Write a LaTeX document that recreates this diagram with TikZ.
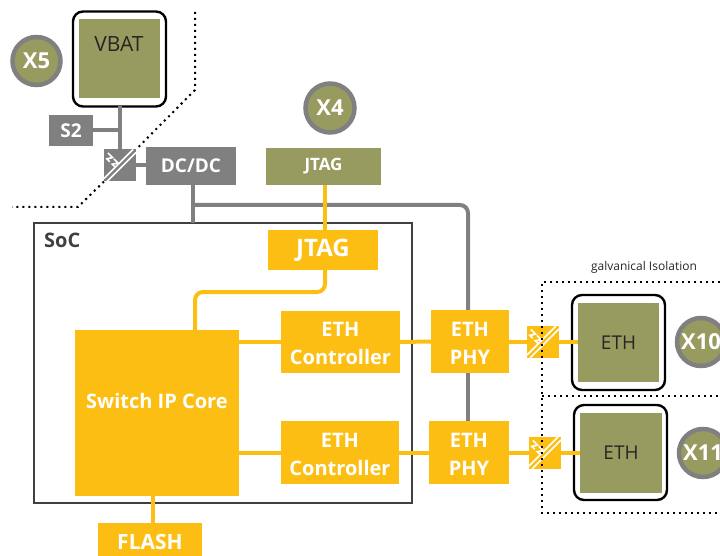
\documentclass[tikz,border=0pt]{standalone}
\usepackage{fontspec}
\setmainfont{Open Sans}
\definecolor{soc_yellow}{HTML}{FDBE14}
\definecolor{con_olive}{HTML}{989B5F}
\definecolor{box_gray}{HTML}{808080}
\tikzset{yellow_block/.style={inner sep=0pt, outer sep=0pt, rectangle, fill=soc_yellow, text=white, align=center, font=\fontsize{20}{28}\selectfont\bfseries}}
\tikzset{gray_block/.style={inner sep=0pt, outer sep=0pt, rectangle, fill=box_gray, text=white, font=\fontsize{19}{22}\selectfont\bfseries}}
\tikzset{olive_block/.style={inner sep=0pt, outer sep=0pt, rectangle, fill=con_olive, text=black!85, font=\fontsize{19}{22}\selectfont}}
\tikzset{frame_box/.style={inner sep=0pt, outer sep=0pt, rectangle, rounded corners=10pt, draw=black, line width=2.4pt, minimum width=93pt, minimum height=95pt}}
\tikzset{x_circle/.style={inner sep=0pt, outer sep=0pt, circle, fill=con_olive, draw=box_gray, line width=4.5pt, text=white, font=\fontsize{22}{24}\selectfont\bfseries}}
\tikzset{iso_box/.style={inner sep=0pt, outer sep=0pt, rectangle, minimum width=32pt, minimum height=32pt}}
\tikzset{gray_line/.style={color=box_gray, line width=4pt}}
\tikzset{yellow_line/.style={color=soc_yellow, line width=4pt}}
\tikzset{dot_line/.style={color=black, line width=2pt, dash pattern=on 2pt off 4pt}}
\tikzset{iso_mark/.style={color=white, line width=1.5pt}}

\begin{document}
\begin{tikzpicture}[x=1pt,y=-1pt]
    \useasboundingbox (0,0) rectangle (720,556);
    % connector ports
    \node[frame_box] (vbat_frame) at (119.5,59) {};
    \node[olive_block, minimum width=81pt, minimum height=79pt] (vbat) at (119.5,58.5) {};
    \node[olive_block, font=\fontsize{21}{24}\selectfont] (vbat_label) at (119,44) {VBAT};
    \node[x_circle, minimum size=48pt] (x5) at (36.5,61) {X5};
    \node[gray_block, minimum width=44pt, minimum height=31pt] (s2) at (71,130.5) {S2};
    \node[iso_box, fill=box_gray] (iso_c) at (120,165.5) {};
    \node[gray_block, minimum width=90pt, minimum height=38pt] (dcdc) at (191,166) {DC/DC};
    \node[x_circle, minimum size=49pt] (x4) at (330,108) {X4};
    \node[olive_block, minimum width=115pt, minimum height=37pt, text=white, font=\fontsize{17}{19}\selectfont\bfseries] (jtag_port) at (323.5,166.5) {JTAG};

    % soc
    \node[inner sep=0pt, outer sep=0pt, draw=black!75, line width=2pt, minimum width=378pt, minimum height=280pt] (soc) at (223,363) {};
    \node[anchor=west, inner sep=0pt, text=black!75, font=\fontsize{20}{22}\selectfont\bfseries] (soc_label) at (44,240) {SoC};

    \coordinate (branch) at (193,205);
    \coordinate (jtag_out) at (325,230);
    \coordinate (gray_down) at (468,311);
    \coordinate (gray_up) at (468,373);
    \coordinate (gray_end) at (468,421);
    \draw[gray_line] (vbat_frame.south -| iso_c.north) -- (iso_c.north);
    \draw[gray_line] (s2.east) -- (s2.east -| iso_c.north);
    \draw[gray_line] (iso_c.east) -- (dcdc.west |- iso_c.east);
    \draw[gray_line] (dcdc.south -| branch) -- (soc.north -| branch);
    \draw[gray_line, rounded corners=8pt] (branch) -| (gray_down);
    \draw[gray_line] (gray_up) -- (gray_end);

    \node[yellow_block, minimum width=110pt, minimum height=40pt, font=\fontsize{24}{26}\selectfont\bfseries] (jtag) at (323,250) {JTAG};
    \node[yellow_block, minimum width=164pt, minimum height=166pt] (switch) at (157,413) {\raisebox{5pt}[0pt][0pt]{Switch IP Core}};
    \node[yellow_block, minimum width=119pt, minimum height=62pt] (ctrl_a) at (340.5,342) {\rule{0pt}{18pt}ETH\\Controller};
    \node[yellow_block, minimum width=118pt, minimum height=63pt] (ctrl_b) at (340,452.5) {\rule{0pt}{18pt}ETH\\Controller};
    \node[yellow_block, minimum width=78pt, minimum height=63pt] (phy_a) at (470,341.5) {\rule{0pt}{18pt}ETH\\PHY};
    \node[yellow_block, minimum width=80pt, minimum height=63pt] (phy_b) at (469,452.5) {\rule{0pt}{18pt}ETH\\PHY};
    \node[yellow_block, minimum width=104pt, minimum height=38pt, font=\fontsize{21}{24}\selectfont\bfseries] (flash) at (150,542) {FLASH};
    \node[iso_box, fill=soc_yellow] (iso_a) at (543,342) {};
    \node[iso_box, fill=soc_yellow] (iso_b) at (545,453) {};

    \draw[yellow_line] (jtag_port.south -| jtag_out) -- (jtag_out);
    \draw[yellow_line, rounded corners=8pt] (jtag.south -| jtag_out) -- (325,292) -- (195,292) -- (195,330);
    \draw[yellow_line] (switch.east |- ctrl_a.west) -- (ctrl_a.west);
    \draw[yellow_line] (switch.east |- ctrl_b.west) -- (ctrl_b.west);
    \draw[yellow_line] (ctrl_a.east) -- (phy_a.west);
    \draw[yellow_line] (ctrl_b.east) -- (phy_b.west);
    \draw[yellow_line] (phy_a.east |- iso_a.west) -- (iso_a.west);
    \draw[yellow_line] (phy_b.east |- iso_b.west) -- (iso_b.west);
    \draw[yellow_line] (switch.south -| flash.north) ++(3,0) -- ++(0,27);

    % ethernet ports
    \node[frame_box] (eth_frame_a) at (618.5,342.5) {};
    \node[frame_box] (eth_frame_b) at (620.5,452.5) {};
    \node[olive_block, minimum width=81pt, minimum height=79pt] (eth_a) at (618.5,342.5) {ETH};
    \node[olive_block, minimum width=82pt, minimum height=80pt] (eth_b) at (621,453) {ETH};
    \node[x_circle, minimum size=48pt] (x10) at (701,342) {X10};
    \node[x_circle, minimum size=48pt] (x11) at (703,453) {X11};
    \draw[yellow_line] (iso_a.east) -- (eth_a.west |- iso_a.east);
    \draw[yellow_line] (iso_b.east) -- (eth_b.west |- iso_b.east);

    % isolators
    \foreach \n in {iso_a,iso_b,iso_c}{
      \draw[iso_mark] ([yshift=3pt]\n.south west) -- ([xshift=-3pt]\n.north east);
      \draw[iso_mark] ([xshift=3pt]\n.south west) -- ([yshift=-3pt]\n.north east);
      \begin{scope}[shift={([xshift=-8.5pt,yshift=5.5pt]\n.center)}, rotate=-45]
        \draw[iso_mark, line width=1.7pt] (-7.5,-2.5) -- (-1,-2.5) -- (-4,2.5) -- (0,2.5);
        \draw[iso_mark, line width=1.7pt] (1,-2.5) -- (7,-2.5) -- (3.5,2.5) -- (7.5,2.5);
      \end{scope}
    }

    % isolation borders
    \draw[dot_line] (195,12) -- (195,90) -- (iso_c.north east);
    \draw[dot_line] (iso_c.south west) -- (78,207) -- (12,207);
    \draw[dot_line] (720,282) -- (542,282) -- (542,513) -- (720,513);
    \draw[dot_line] (542,396) -- (720,396);
    \node[inner sep=0pt, text=black!85, font=\fontsize{12}{14}\selectfont] (iso_label) at (644,267) {galvanical Isolation};
  \end{tikzpicture}
\end{document}
